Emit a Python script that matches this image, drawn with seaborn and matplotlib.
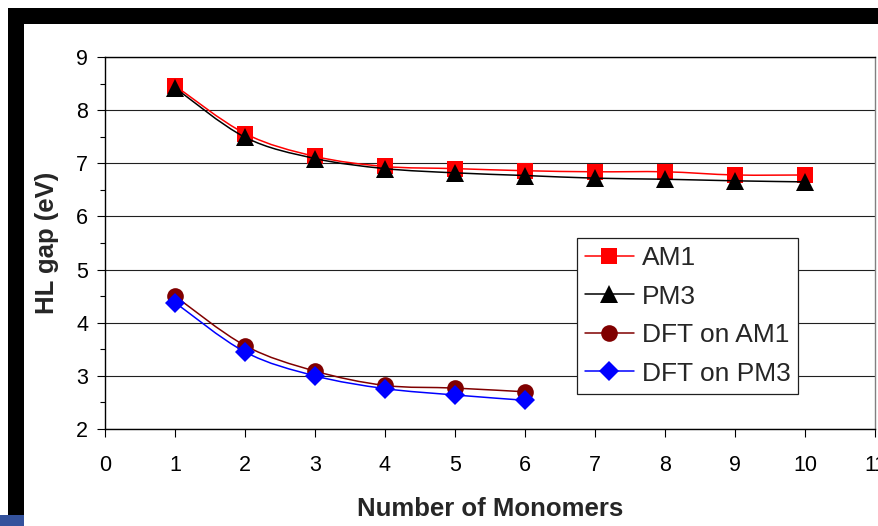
import numpy as np
import matplotlib
matplotlib.use("Agg")
import matplotlib.pyplot as plt
from matplotlib.path import Path
from matplotlib.patches import PathPatch, Rectangle
from matplotlib.lines import Line2D
from matplotlib.ticker import MultipleLocator
import seaborn as sns

# HOMO-LUMO gap versus oligomer length
monomers_semi = [1, 2, 3, 4, 5, 6, 7, 8, 9, 10]
am1_gap = [8.46, 7.56, 7.13, 6.94, 6.90, 6.86, 6.84, 6.84, 6.78, 6.78]
pm3_gap = [8.42, 7.49, 7.09, 6.90, 6.82, 6.77, 6.72, 6.70, 6.67, 6.65]

monomers_dft = [1, 2, 3, 4, 5, 6]
dft_am1_gap = [4.50, 3.57, 3.09, 2.82, 2.77, 2.70]
dft_pm3_gap = [4.38, 3.45, 3.00, 2.76, 2.64, 2.54]

series_labels = ["AM1", "PM3", "DFT on AM1", "DFT on PM3"]
x_ticks = list(range(0, 12))
y_ticks = list(range(2, 10))

sns.set_style("ticks")
plt.rcParams["font.family"] = ["Liberation Sans", "DejaVu Sans"]

fig = plt.figure(figsize=(8.79, 5.26), dpi=100)
fig.patch.set_facecolor("white")
ax = fig.add_axes([105 / 879, 1 - 429 / 526, 770 / 879, 372 / 526])


def smooth_path(xs, ys):
    """Catmull-Rom style cubic Bezier through the data points."""
    pts = np.column_stack([xs, ys]).astype(float)
    n = len(pts)
    verts = [pts[0]]
    codes = [Path.MOVETO]
    for i in range(n - 1):
        p0 = pts[i - 1] if i > 0 else pts[i]
        p1 = pts[i]
        p2 = pts[i + 1]
        p3 = pts[i + 2] if i + 2 < n else pts[i + 1]
        c1 = p1 + (p2 - p0) / 6.0
        c2 = p2 - (p3 - p1) / 6.0
        verts += [c1, c2, p2]
        codes += [Path.CURVE4] * 3
    return Path(verts, codes)


styles = [
    (monomers_semi, am1_gap, "#ff0000", "s", 12),
    (monomers_semi, pm3_gap, "#000000", "^", 13),
    (monomers_dft, dft_am1_gap, "#800000", "o", 12),
    (monomers_dft, dft_pm3_gap, "#0000ff", "D", 10),
]

handles = []
for k, ((xs, ys, color, marker, ms), label) in enumerate(zip(styles, series_labels)):
    z = 3 + 2 * k
    ax.add_patch(PathPatch(smooth_path(xs, ys), facecolor="none",
                           edgecolor=color, lw=1.1, zorder=z))
    sns.lineplot(x=xs, y=ys, ax=ax, color=color, marker=marker,
                 markersize=ms, markeredgewidth=0, linestyle="none",
                 legend=False, zorder=z + 1)
    handles.append(Line2D([0], [0], color=color, lw=1.1, marker=marker,
                          markersize=ms, markeredgewidth=0, label=label))

ax.set_xlim(0, 11)
ax.set_ylim(2, 9)
ax.set_xticks(x_ticks)
ax.set_yticks(y_ticks)
ax.yaxis.set_minor_locator(MultipleLocator(0.5))
ax.grid(axis="y", which="major", color="#202020", lw=0.8)
ax.set_axisbelow(True)

ax.tick_params(axis="both", which="major", direction="out", length=6,
               width=0.8, color="black", labelsize=15.5, labelcolor="black")
ax.tick_params(axis="y", which="major", pad=6)
ax.tick_params(axis="x", which="major", pad=12.5)
ax.tick_params(axis="y", which="minor", direction="out", length=3.5,
               width=0.8, color="black")

for side in ["left", "bottom", "top"]:
    ax.spines[side].set_color("black")
    ax.spines[side].set_linewidth(1.0)
ax.spines["right"].set_color("#808080")
ax.spines["right"].set_linewidth(1.0)

ax.set_xlabel("Number of Monomers", fontsize=18.5, fontweight="bold")
ax.set_ylabel("HL gap (eV)", fontsize=18.5, fontweight="bold")
ax.xaxis.set_label_coords(0.5, -0.183)
ax.yaxis.set_label_coords(-0.060, 0.5)

leg = ax.legend(handles=handles, loc="upper left",
                bbox_to_anchor=(0.613, 0.513), borderaxespad=0,
                fontsize=19, frameon=True, fancybox=False, framealpha=1,
                edgecolor="#202020", handlelength=1.85, handletextpad=0.3,
                labelspacing=0.55, borderpad=0.3)
leg.get_frame().set_linewidth(0.9)
leg.set_zorder(20)

# slide frame decoration
fig.add_artist(Rectangle((8 / 879, 1 - 24 / 526), 1, 16 / 526,
                         transform=fig.transFigure, color="black", lw=0))
fig.add_artist(Rectangle((8 / 879, 1 - 515 / 526), 16 / 879, 507 / 526,
                         transform=fig.transFigure, color="black", lw=0))
fig.add_artist(Rectangle((0, 0), 24 / 879, 11 / 526,
                         transform=fig.transFigure, color="#34529c", lw=0))

fig.savefig("out.png", dpi=100, facecolor="white")
